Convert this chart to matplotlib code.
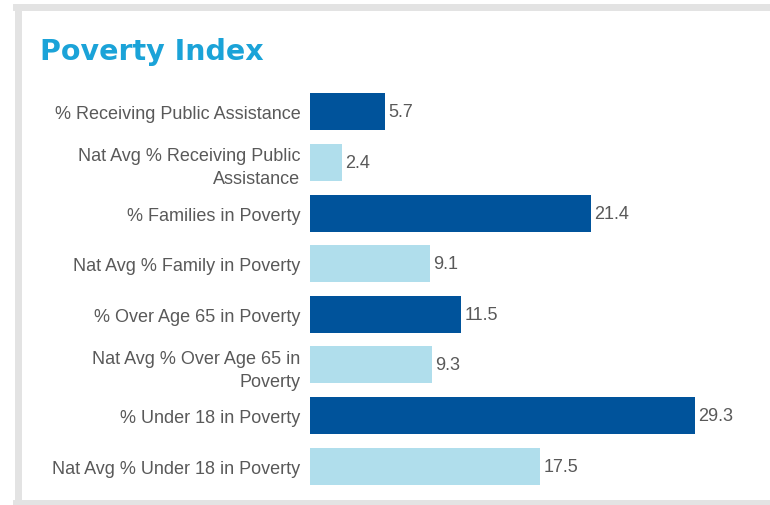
import matplotlib.pyplot as plt
from matplotlib.lines import Line2D

# dados do gráfico
categories = [
    '% Receiving Public Assistance',
    'Nat Avg % Receiving Public\nAssistance',
    '% Families in Poverty',
    'Nat Avg % Family in Poverty',
    '% Over Age 65 in Poverty',
    'Nat Avg % Over Age 65 in\nPoverty',
    '% Under 18 in Poverty',
    'Nat Avg % Under 18 in Poverty',
]
values = [5.7, 2.4, 21.4, 9.1, 11.5, 9.3, 29.3, 17.5]
is_nat_avg = [False, True, False, True, False, True, False, True]

dark = '#00539B'
light = '#B0DEEC'
text_gray = '#595959'

fig = plt.figure(figsize=(7.7, 5.06), dpi=100)
W, H = 770, 506

# moldura cinza (esquerda, topo, base)
frame = dict(transform=fig.transFigure, color='#E3E3E3', linewidth=5)
fig.lines.append(Line2D([18 / W, 18 / W], [1 - 8 / H, 1 - 504 / H], **frame))
fig.lines.append(Line2D([16 / W, 1], [1 - 8 / H, 1 - 8 / H], **frame))
fig.lines.append(Line2D([16 / W, 1], [1 - 504 / H, 1 - 504 / H], **frame))

fig.text(40 / W, 1 - 52 / H, 'Poverty Index', color='#1BA3D8', fontsize=20.5,
         fontweight='bold', family='DejaVu Sans', va='center', ha='left')

ax = fig.add_axes([310 / W, 1 - 492.5 / H, 460 / W, 405 / H])
y = list(range(len(values)))
colors = [light if n else dark for n in is_nat_avg]
ax.barh(y, values, height=0.73, color=colors)
for yi, v in zip(y, values):
    ax.text(v + 0.25, yi, f'{v}', va='center', ha='left', color=text_gray,
            fontsize=13, family='Liberation Sans')

ax.set_ylim(len(values) - 0.5, -0.5)
ax.set_xlim(0, 460 / 13.14)
ax.set_yticks(y)
ax.set_yticklabels(categories, fontsize=13, color=text_gray,
                   family='Liberation Sans', linespacing=1.45)
ax.tick_params(axis='y', length=0, pad=7)
ax.set_xticks([])
for s in ax.spines.values():
    s.set_visible(False)

fig.savefig('out.png', dpi=100)
